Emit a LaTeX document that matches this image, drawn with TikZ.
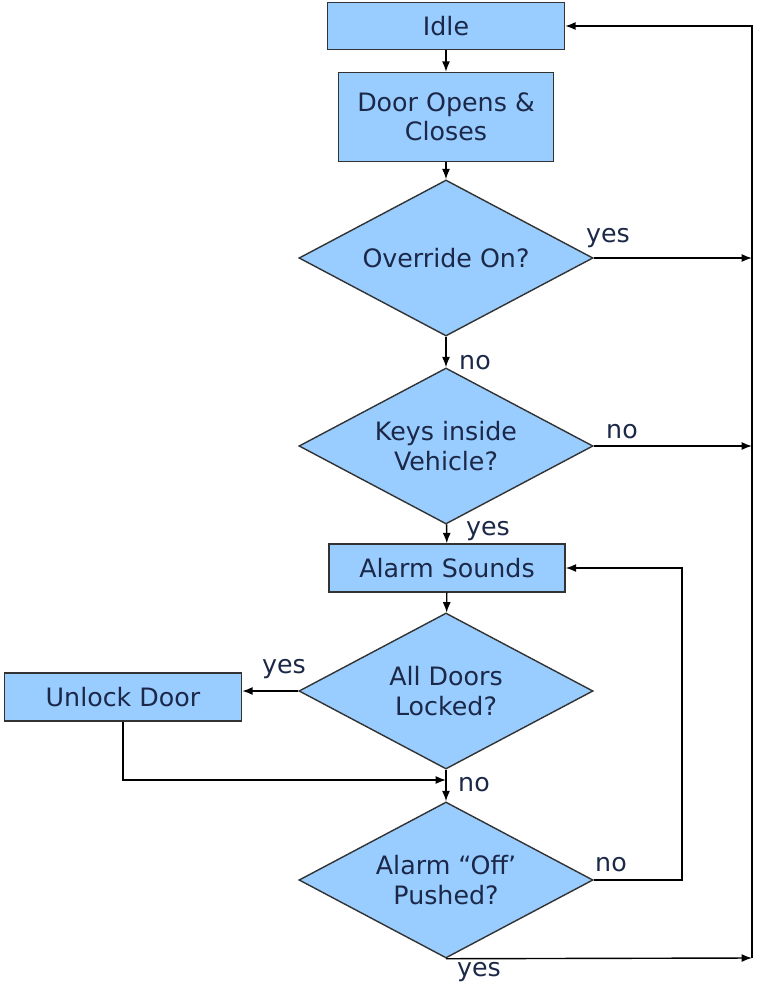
\documentclass[tikz,border=0pt]{standalone}
\usepackage{fontspec}
\setmainfont{DejaVu Sans}
\usetikzlibrary{shapes.geometric,arrows.meta}
\definecolor{boxblue}{RGB}{153,204,255}
\definecolor{inkblue}{RGB}{28,40,72}

\begin{document}
\begin{tikzpicture}[x=0.025cm,y=-0.025cm,
  font=\fontsize{18}{21}\selectfont,
  every node/.style={text=inkblue},
  stepbox/.style={draw=black!80,fill=boxblue,line width=1pt,inner sep=0pt,align=center},
  ask/.style={diamond,draw=black!80,fill=boxblue,line width=1pt,inner sep=0pt,aspect=2,
    minimum width=7.35cm,minimum height=3.9cm,align=center},
  flow/.style={line width=1pt,-{Latex[length=2.6mm,width=2mm]}},
  lbl/.style={inner sep=0pt}]

\useasboundingbox (0,0) rectangle (759,988);

\node[stepbox,minimum width=5.925cm,minimum height=1.175cm] (idle) at (446,26) {Idle};
\node[stepbox,minimum width=5.375cm,minimum height=2.225cm] (door) at (446,117) {Door Opens \&\\Closes};
\node[ask] (override) at (446,258) {Override On?};
\node[ask] (keys) at (446,446) {Keys inside\\Vehicle?};
\node[stepbox,minimum width=5.9cm,minimum height=1.2cm] (sounds) at (447,568) {Alarm Sounds};
\node[ask] (locked) at (446,691) {All Doors\\Locked?};
\node[stepbox,minimum width=5.925cm,minimum height=1.2cm] (unlock) at (123,697) {Unlock Door};
\node[ask] (pushed) at (446,880) {Alarm “Off’\\Pushed?};

% return lines
\coordinate (rail) at (752,958);
\coordinate (back) at (682,568);
\coordinate (join) at (446,780);

\draw[flow] (idle) -- (door);
\draw[flow] (door) -- (override);
\draw[flow] (override) -- (keys);
\draw[flow] (keys) -- (sounds);
\draw[flow] (sounds) -- (locked);
\draw[flow] (locked) -- (pushed);

\draw[flow] (locked.west) -- (locked.west -| unlock.east);
\draw[flow] (unlock.south) |- (join);

\draw[flow] (override.east) -- (override.east -| rail);
\draw[flow] (keys.east) -- (keys.east -| rail);
\draw[flow] (pushed.south) -- (rail);
\draw[flow] (rail) |- (idle.east);

\draw[flow] (pushed.east) -| (back) -- (sounds.east);

\node[lbl] (ovyes) at (608,238) {yes};
\node[lbl] (ovno) at (475,363) {no};
\node[lbl] (keysno) at (622,432) {no};
\node[lbl] (keysyes) at (488,531) {yes};
\node[lbl] (lockyes) at (284,669) {yes};
\node[lbl] (lockno) at (474,785) {no};
\node[lbl] (pushno) at (611,865) {no};
\node[lbl] (pushyes) at (479,972) {yes};

\end{tikzpicture}
\end{document}
